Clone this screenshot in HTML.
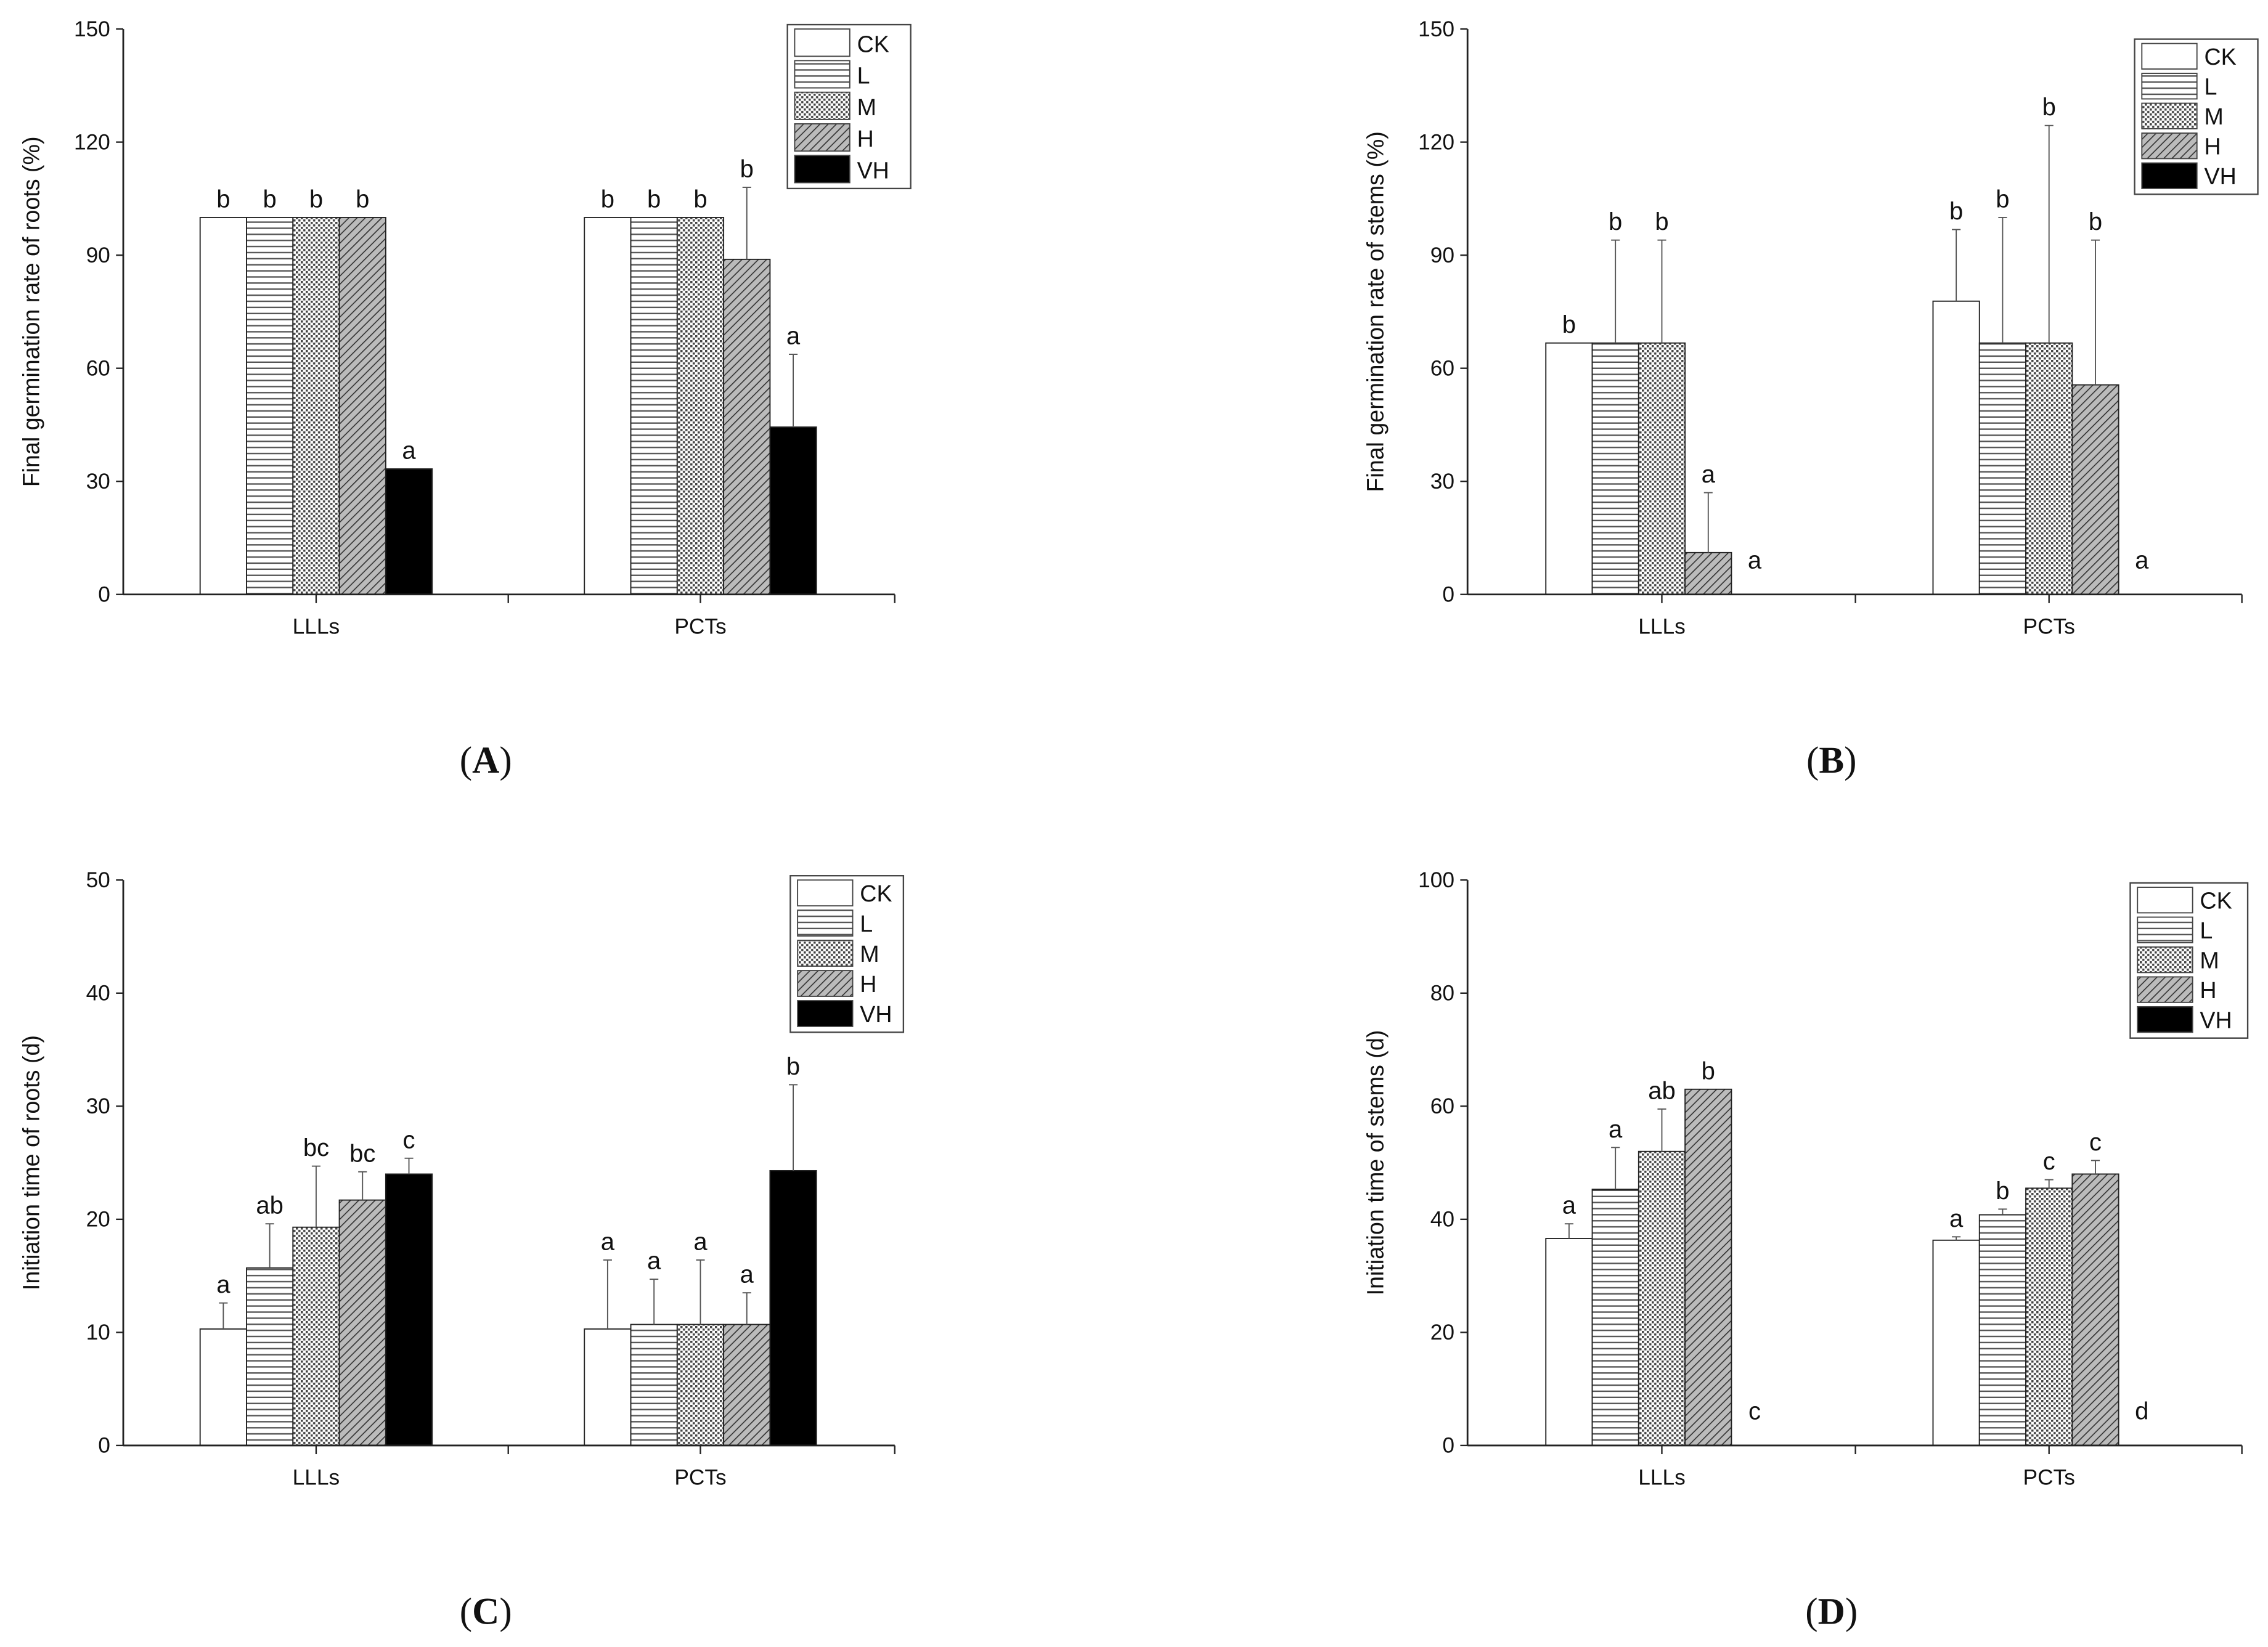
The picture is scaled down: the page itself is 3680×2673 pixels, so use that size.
<!DOCTYPE html>
<html><head><meta charset="utf-8"><style>
html,body{margin:0;padding:0;background:#fff;}
svg{display:block;}
text{font-family:"Liberation Sans",Arial,sans-serif;fill:#111;}
.cap{font-family:"Liberation Serif",serif;font-size:26px;}
</style></head><body>
<svg id="fig" width="3680" height="2673" viewBox="0 0 1564 1136" xmlns="http://www.w3.org/2000/svg">
<defs>
<pattern id="pL" patternUnits="userSpaceOnUse" width="8" height="4.2"><rect width="8" height="4.2" fill="#fff"/><line x1="0" y1="2" x2="8" y2="2" stroke="#555" stroke-width="1"/></pattern>
<pattern id="pM" patternUnits="userSpaceOnUse" width="3.4" height="3.4"><rect width="3.4" height="3.4" fill="#fff"/><rect width="1.5" height="1.5" fill="#444"/><rect x="1.7" y="1.7" width="1.5" height="1.5" fill="#444"/></pattern>
<pattern id="pH" patternUnits="userSpaceOnUse" width="4" height="4" patternTransform="rotate(45)"><rect width="4" height="4" fill="#bbb"/><line x1="0" y1="0" x2="0" y2="4" stroke="#333" stroke-width="1.4"/></pattern>
</defs>
<g id="root"></g>
</svg>
<script>
// Panel A
const catsA = ["LLLs","PCTs"];
const valsA = [[100,100,100,100,33.3],[100,100,100,88.9,44.4]];
const errA = [[null,null,null,null,null],[null,null,null,108,63.7]];
const letA = [["b","b","b","b","a"],["b","b","b","b","a"]];
const ticksA = [0,30,60,90,120,150];
// Panel B
const catsB = ["LLLs","PCTs"];
const valsB = [[66.7,66.7,66.7,11.1,0],[77.8,66.7,66.7,55.6,0]];
const errB = [[null,94,94,27,null],[96.8,100,124.4,94,null]];
const letB = [["b","b","b","a","a"],["b","b","b","b","a"]];
const ticksB = [0,30,60,90,120,150];
// Panel C
const catsC = ["LLLs","PCTs"];
const valsC = [[10.3,15.7,19.3,21.7,24],[10.3,10.7,10.7,10.7,24.3]];
const errC = [[12.6,19.6,24.7,24.2,25.4],[16.4,14.7,16.4,13.5,31.9]];
const letC = [["a","ab","bc","bc","c"],["a","a","a","a","b"]];
const ticksC = [0,10,20,30,40,50];
// Panel D
const catsD = ["LLLs","PCTs"];
const valsD = [[36.6,45.3,52,63,0],[36.3,40.8,45.5,48,0]];
const errD = [[39.2,52.7,59.5,null,null],[36.9,41.8,47,50.4,null]];
const letD = [["a","a","ab","b","c"],["a","b","c","c","d"]];
const ticksD = [0,20,40,60,80,100];
const series = ["CK","L","M","H","VH"];

const NS="http://www.w3.org/2000/svg";
const root=document.getElementById('root');
function mk(tag,attrs,parent){const e=document.createElementNS(NS,tag);for(const k in attrs)e.setAttribute(k,attrs[k]);(parent||root).appendChild(e);return e;}
const fills=["#fff","url(#pL)","url(#pM)","url(#pH)","#000"];

function panel(id,ax,top,bot,xend,groupStarts,cats,vals,errs,lets,ticks,title,legend,cap){
  const g=mk('g',{});
  
  
  const max=ticks[ticks.length-1];
  const y=v=>bot-(v/max)*(bot-top);
  const bw=32;
  cats.forEach((c,gi)=>{
    vals[gi].forEach((v,si)=>{
      const x0=groupStarts[gi]+si*bw;
      if(v>0){
        const r=mk('rect',{x:x0,y:y(v),width:bw,height:bot-y(v),fill:fills[si],stroke:'#222','stroke-width':0.8},g);
        
        
      }
      const e=errs[gi][si];
      const cx=x0+bw/2;
      if(e!=null){
        const l=mk('line',{x1:cx,y1:y(v),x2:cx,y2:y(e),stroke:'#555','stroke-width':0.8},g);
        
        
        mk('line',{x1:cx-3,y1:y(e),x2:cx+3,y2:y(e),stroke:'#555','stroke-width':0.8},g);
      }
      const top2=e!=null?y(e):y(v);
      const ly=v>0?top2-7:bot-18;
      const t=mk('text',{x:cx,y:ly,'font-size':17,'text-anchor':'middle'},g);
      t.textContent=lets[gi][si];
      
      
    });
  });
  const ya=mk('line',{x1:ax,y1:top,x2:ax,y2:bot,stroke:'#222','stroke-width':1.2},g);
  
  
  const xa=mk('line',{x1:ax,y1:bot,x2:xend,y2:bot,stroke:'#222','stroke-width':1.2},g);
  
  
  ticks.forEach(t=>{
    mk('line',{x1:ax-5,y1:y(t),x2:ax,y2:y(t),stroke:'#222','stroke-width':1},g);
    const tx=mk('text',{x:ax-9,y:y(t)+5,'font-size':15,'text-anchor':'end'},g);
    tx.textContent=t;
    
    
  });
  const c0=groupStarts[0]+2.5*bw, c1=groupStarts[1]+2.5*bw;
  [c0,(c0+c1)/2,c1,xend].forEach(cx=>mk('line',{x1:cx,y1:bot,x2:cx,y2:bot+6,stroke:'#222','stroke-width':1},g));
  cats.forEach((c,gi)=>{
    const tx=mk('text',{x:gi?c1:c0,y:bot+27,'font-size':15,'text-anchor':'middle'},g);
    tx.textContent=c;
    
    
  });
  const tt=mk('text',{x:0,y:0,'font-size':16,'text-anchor':'middle',transform:`translate(${ax-58},${(top+bot)/2}) rotate(-90)`},g);
  tt.textContent=title;
  
  
  const [lx,ly,lw,lh]=legend;
  const lg=mk('g',{},g);
  
  
  mk('rect',{x:lx,y:ly,width:lw,height:lh,fill:'#fff',stroke:'#444','stroke-width':1},lg);
  const step=(lh-4)/5;
  series.forEach((s,i)=>{
    const ry=ly+2+i*step;
    mk('rect',{x:lx+5,y:ry+1,width:38,height:step-3,fill:fills[i],stroke:'#444','stroke-width':0.8},lg);
    const tx=mk('text',{x:lx+48,y:ry+step-5,'font-size':16},lg);
    tx.textContent=s;
    
    
  });
  const ct=mk('text',{x:cap[0],y:cap[1],'text-anchor':'middle',class:'cap'},g);
  ct.innerHTML='(<tspan font-weight="bold">'+id+'</tspan>)';
  
  
}
panel('A',85,20,410,617,[138,403],catsA,valsA,errA,letA,ticksA,'Final germination rate of roots (%)',[543,17,85,113],[335,533]);
panel('B',1012,20,410,1546,[1066,1333],catsB,valsB,errB,letB,ticksB,'Final germination rate of stems (%)',[1472,27,85,107],[1263,533]);
panel('C',85,607,997,617,[138,403],catsC,valsC,errC,letC,ticksC,'Initiation time of roots (d)',[545,604,78,108],[335,1120]);
panel('D',1012,607,997,1546,[1066,1333],catsD,valsD,errD,letD,ticksD,'Initiation time of stems (d)',[1469,609,81,107],[1263,1120]);
</script>
</body></html>
